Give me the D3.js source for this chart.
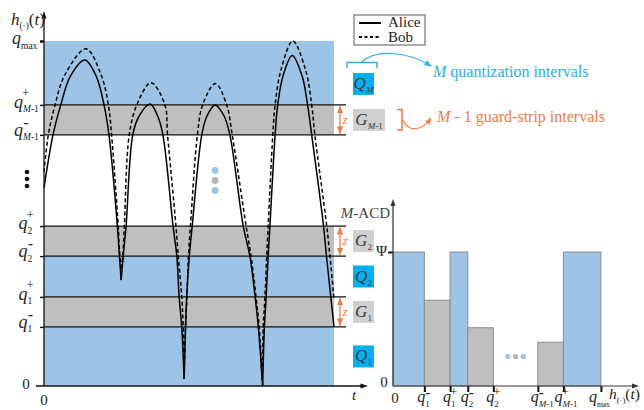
<!DOCTYPE html>
<html>
<head>
<meta charset="utf-8">
<script src="https://cdn.jsdelivr.net/npm/d3@7"></script>
<style>
  body { margin: 0; background: #fff; }
  svg { display: block; font-family: "Liberation Serif", "Times New Roman", serif; }
</style>
</head>
<body>
<div id="chart"></div>
<script>
// h-axis levels (unit = guard strip width z)
const levelSubs  = ["", "1", "1", "2", "2", "M-1", "M-1", "max"];
const levelSigns = ["", "-", "+", "-", "+", "-", "+", ""];
const levels     = [0, 1.97, 2.97, 4.33, 5.33, 8.37, 9.37, 11.5];
const bandKinds  = ["Q", "G", "Q", "G", null, "G", "Q"];
const bandNames  = ["1", "1", "2", "2", null, "M-1", "M"];

// channel gain traces
const aliceT = [0, 0.31, 0.58, 0.91, 1.41, 1.80, 2.07, 2.24, 2.53, 2.60, 2.66,
  2.73, 2.83, 3.06, 3.28, 3.66, 3.92, 4.10, 4.45, 4.58, 4.66, 4.75, 4.83,
  4.92, 5.01, 5.11, 5.44, 5.62, 5.90, 6.21, 6.41, 6.87, 7.10, 7.28, 7.39, 7.54,
  7.60, 7.66, 7.73, 7.79, 7.97, 8.06, 8.24, 8.56, 8.90, 9.09, 9.23, 9.64, 9.74, 9.89, 10.0];
const aliceH = [6.6, 8.37, 9.37, 10.33, 10.87, 10.33, 9.37, 8.37, 5.33, 4.33, 3.53,
  4.33, 5.33, 8.37, 9.0, 9.4, 9.0, 8.37, 5.33, 4.33, 2.97, 1.97, 0.23,
  2.97, 4.33, 5.33, 8.37, 9.0, 9.37, 9.0, 8.37, 5.33, 4.33, 2.97, 1.97, 0,
  1.97, 2.97, 4.33, 5.33, 8.37, 9.37, 10.33, 11.02, 10.33, 9.37, 8.37, 5.33, 4.33, 2.97, 1.97];
const bobT = [0, 0.15, 0.38, 0.72, 1.45, 1.97, 2.22, 2.33, 2.56, 2.62, 2.69,
  2.72, 2.77, 2.94, 3.20, 3.69, 4.17, 4.26, 4.55, 4.63, 4.75, 4.80, 4.84,
  4.88, 4.93, 4.98, 5.05, 5.29, 5.47, 5.91, 6.30, 6.49, 6.97, 7.14, 7.31, 7.42, 7.52,
  7.56, 7.62, 7.68, 7.73, 7.89, 7.97, 8.17, 8.58, 9.02, 9.23, 9.34, 9.75, 9.86, 10.0];
const bobH = [7.13, 8.37, 9.37, 10.37, 11.24, 10.37, 9.37, 8.37, 5.33, 4.33, 3.93,
  4.33, 5.33, 8.37, 9.37, 10.11, 9.37, 8.37, 5.33, 4.33, 2.97, 1.97, 0.47,
  1.97, 2.97, 4.33, 5.33, 8.37, 9.37, 10.08, 9.37, 8.37, 5.33, 4.33, 2.97, 1.97, 0.2,
  1.97, 2.97, 4.33, 5.33, 8.37, 9.37, 10.53, 11.5, 10.53, 9.37, 8.37, 5.33, 4.33, 2.9];

// M-ACD histogram
const acdEdges  = [0, 1.74, 3.17, 4.15, 5.57, 8.04, 9.46, 11.54];
const acdValues = [1, 0.64, 1, 0.435, null, 0.326, 1];
const acdKinds  = ["Q", "G", "Q", "G", null, "G", "Q"];
const acdSubs   = ["1", "1", "2", "2", "M-1", "M-1", "max"];
const acdSigns  = ["-", "+", "-", "+", "-", "+", ""];

const BLUE = "#9dc3e6", GRAY = "#bfbfbf", CYAN = "#00b0f0", LGRAY = "#d0d0d0";
const ORANGE = "#f07c45", SKY = "#2eaee4", INK = "#222";

const svg = d3.select("#chart").append("svg").attr("width", 644).attr("height", 410);

const defs = svg.append("defs");
function marker(id, col) {
  defs.append("marker").attr("id", id).attr("viewBox", "0 0 10 10")
    .attr("refX", 9).attr("refY", 5).attr("markerWidth", 6).attr("markerHeight", 6)
    .attr("orient", "auto-start-reverse")
    .append("path").attr("d", "M0,1L10,5L0,9z").attr("fill", col);
}
marker("arrSky", SKY);
marker("arrOr", ORANGE);

const x = d3.scaleLinear().domain([0, 10]).range([44, 334]);
const y = d3.scaleLinear().domain([0, 11.5]).range([386, 41]);

// bands
const bands = d3.range(bandKinds.length).filter(i => bandKinds[i]);
svg.append("g").selectAll("rect").data(bands).join("rect")
  .attr("x", x(0)).attr("width", x(10) - x(0))
  .attr("y", i => y(levels[i + 1])).attr("height", i => y(levels[i]) - y(levels[i + 1]))
  .attr("fill", i => bandKinds[i] === "Q" ? BLUE : GRAY);

// level lines
svg.append("g").selectAll("line").data(levels.slice(1, -1)).join("line")
  .attr("x1", x(0)).attr("x2", x(10) + 12)
  .attr("y1", d => y(d)).attr("y2", d => y(d))
  .attr("stroke", "#111").attr("stroke-width", 1.3);

// traces, one spline per arch (split at the cusps)
function arches(T, H) {
  const segs = [];
  let cur = [[T[0], H[0]]];
  for (let i = 1; i < T.length; i++) {
    cur.push([T[i], H[i]]);
    if (i < T.length - 1 && H[i] < H[i - 1] && H[i] < H[i + 1]) {
      segs.push(cur);
      cur = [[T[i], H[i]]];
    }
  }
  segs.push(cur);
  return segs;
}
const line = d3.line().x(d => x(d[0])).y(d => y(d[1])).curve(d3.curveCatmullRom.alpha(0.5));
svg.append("g").selectAll("path").data(arches(bobT, bobH)).join("path")
  .attr("d", line).attr("fill", "none").attr("stroke", "#000")
  .attr("stroke-width", 1.5).attr("stroke-dasharray", "4,2.6");
svg.append("g").selectAll("path").data(arches(aliceT, aliceH)).join("path")
  .attr("d", line).attr("fill", "none").attr("stroke", "#000").attr("stroke-width", 1.5);

// axes
const yAx = svg.append("g").attr("transform", "translate(44,0)")
  .call(d3.axisLeft(y).tickValues(levels.slice(1)).tickSize(4).tickFormat(""));
yAx.select(".domain").remove();
yAx.selectAll(".tick line").attr("stroke", "#111").attr("stroke-width", (d, i) => i === levels.length - 2 ? 2.5 : 1.4);
svg.append("line").attr("x1", 44).attr("x2", 44).attr("y1", 386).attr("y2", 16).attr("stroke", "#111").attr("stroke-width", 1.3);
svg.append("path").attr("d", "M44,11L41.5,18.5L46.5,18.5z").attr("fill", "#111");
svg.append("line").attr("x1", 36).attr("x2", 362).attr("y1", 386).attr("y2", 386).attr("stroke", "#111").attr("stroke-width", 1.3);
svg.append("path").attr("d", "M368,386L360.5,383.5L360.5,388.5z").attr("fill", "#111");

// label helpers
function addSub(t, sub, size, dy, xAbs) {
  const first = t.append("tspan").attr("dy", dy).attr("font-size", size);
  if (xAbs !== undefined) first.attr("x", xAbs);
  if (sub === "M-1") {
    first.attr("font-style", "italic").text("M");
    t.append("tspan").attr("font-size", size).text("-1");
  } else {
    first.text(sub);
  }
}
// q with a superscript sign stacked over its subscript, as one text
function qLabel(g, qx, base, sub, sign, o) {
  const t = g.append("text").attr("x", qx).attr("y", base).attr("fill", INK);
  t.append("tspan").attr("font-style", "italic").attr("font-size", o.q).text("q");
  const subX = qx + o.q * 0.5;
  if (sign) {
    const plus = sign === "+";
    t.append("tspan").attr("x", subX + (plus ? o.plusDx : o.minusDx))
      .attr("dy", plus ? o.plusDy : o.minusDy)
      .attr("font-size", plus ? 13 : 15).attr("font-weight", plus ? null : "bold")
      .text(sign);
    addSub(t, sub, o.sub, o.subDy - (plus ? o.plusDy : o.minusDy), subX);
  } else {
    addSub(t, sub, o.sub, o.subDy, subX);
  }
}

// left axis labels
const lab = svg.append("g");
levels.forEach((lv, i) => {
  if (i === 0) return;
  const sub = levelSubs[i], sign = levelSigns[i];
  const qx = sub === "max" ? 12 : sub === "M-1" ? 14 : 18.5;
  const base = y(lv) + (sign === "-" ? 1 : 3);
  qLabel(lab, qx, base, sub, sign, {
    q: 18, sub: 9.5, subDy: 4.5,
    plusDx: -1, plusDy: -10.5, minusDx: 0.5, minusDy: -9
  });
});
lab.append("text").attr("x", 26).attr("y", 389).attr("text-anchor", "middle").attr("font-size", 15).attr("fill", INK).text("0");
lab.append("text").attr("x", 44).attr("y", 405).attr("text-anchor", "middle").attr("font-size", 15).attr("fill", INK).text("0");
lab.append("text").attr("x", 354).attr("y", 400).attr("text-anchor", "middle").attr("font-size", 15).attr("font-style", "italic").attr("fill", INK).text("t");

function hLabel(g, x0, base, size) {
  const t = g.append("text").attr("x", x0).attr("y", base).attr("fill", INK).attr("font-size", size);
  t.append("tspan").attr("font-style", "italic").text("h");
  t.append("tspan").attr("font-size", size * 0.55).attr("dy", 4).text("(·)");
  t.append("tspan").attr("dy", -4).text("(");
  t.append("tspan").attr("font-style", "italic").text("t");
  t.append("tspan").text(")");
}
hLabel(lab, 11, 25, 17);

// vertical ellipsis on left
lab.selectAll("circle.vd").data([0, 1, 2]).join("circle").attr("class", "vd")
  .attr("cx", 27).attr("cy", d => 172 + d * 7).attr("r", 2.3).attr("fill", "#111");
// coloured dots in the middle of the skipped levels
const midH = (levels[4] + levels[5]) / 2;
lab.selectAll("circle.md").data([1, 0, -1]).join("circle").attr("class", "md")
  .attr("cx", x(5.9)).attr("cy", d => y(midH) + d * 10).attr("r", 3.4)
  .attr("fill", d => d === 0 ? "#b4b4b4" : BLUE);

// z arrows and interval boxes
const side = svg.append("g");
bands.forEach(i => {
  const top = y(levels[i + 1]), bot = y(levels[i]), mid = (top + bot) / 2;
  if (bandKinds[i] === "G") {
    side.append("line").attr("x1", 340).attr("x2", 340).attr("y1", top + 1.5).attr("y2", bot - 1.5)
      .attr("stroke", ORANGE).attr("stroke-width", 1.3)
      .attr("marker-start", "url(#arrOr)").attr("marker-end", "url(#arrOr)");
    side.append("text").attr("x", 342.5).attr("y", mid + 4).attr("font-size", 13)
      .attr("font-style", "italic").attr("fill", ORANGE).text("z");
  }
  const w = bandNames[i] === "M-1" ? 32 : 21;
  const cy = bandNames[i] === "M" ? mid + 11 : mid;
  side.append("rect").attr("x", 353).attr("y", cy - 11).attr("width", w).attr("height", 22)
    .attr("fill", bandKinds[i] === "Q" ? CYAN : LGRAY);
  const t = side.append("text").attr("x", 353 + w / 2).attr("y", cy + 5)
    .attr("text-anchor", "middle").attr("fill", "#3a3a3a");
  t.append("tspan").attr("font-style", "italic").attr("font-size", 17).text(bandKinds[i]);
  const sub = bandNames[i];
  if (sub === "M") {
    t.append("tspan").attr("dy", 4).attr("font-size", 9).attr("font-style", "italic").text("M");
  } else addSub(t, sub, 9, 4);
});

// legend
const leg = svg.append("g");
leg.append("rect").attr("x", 354).attr("y", 15).attr("width", 71).attr("height", 30)
  .attr("fill", "#fff").attr("stroke", "#808080").attr("stroke-width", 1.3);
leg.append("line").attr("x1", 359).attr("x2", 381).attr("y1", 23).attr("y2", 23).attr("stroke", "#000").attr("stroke-width", 2);
leg.append("line").attr("x1", 359).attr("x2", 381).attr("y1", 37).attr("y2", 37).attr("stroke", "#000").attr("stroke-width", 2).attr("stroke-dasharray", "3,2.5");
leg.append("text").attr("x", 388).attr("y", 27).attr("font-size", 15).attr("fill", INK).text("Alice");
leg.append("text").attr("x", 388).attr("y", 42).attr("font-size", 15).attr("fill", INK).text("Bob");

// callouts
side.append("path").attr("d", "M347,68V62.5H377V68").attr("fill", "none").attr("stroke", SKY).attr("stroke-width", 1.5);
side.append("path").attr("d", "M362,62C374,50 405,50 431,66").attr("fill", "none").attr("stroke", SKY)
  .attr("stroke-width", 1.2).attr("marker-end", "url(#arrSky)");
const qt = side.append("text").attr("x", 433).attr("y", 77).attr("font-size", 16).attr("fill", SKY);
qt.append("tspan").attr("font-style", "italic").text("M");
qt.append("tspan").text(" quantization intervals");
side.append("path").attr("d", "M397,109.5H402V130H397").attr("fill", "none").attr("stroke", ORANGE).attr("stroke-width", 1.5);
side.append("path").attr("d", "M403,120C409,133 422,131 431,118").attr("fill", "none").attr("stroke", ORANGE)
  .attr("stroke-width", 1.2).attr("marker-end", "url(#arrOr)");
const gt = side.append("text").attr("x", 437).attr("y", 122).attr("font-size", 16).attr("fill", ORANGE);
gt.append("tspan").attr("font-style", "italic").text("M");
gt.append("tspan").text(" - 1 guard-strip intervals");

// M-ACD chart
const xR = d3.scaleLinear().domain([0, 13.6]).range([393, 638]);
const yR = d3.scaleLinear().domain([0, 1]).range([386, 252]);
const acd = svg.append("g");
const bins = d3.range(acdValues.length).filter(i => acdKinds[i]);
acd.selectAll("rect").data(bins).join("rect")
  .attr("x", i => xR(acdEdges[i])).attr("width", i => xR(acdEdges[i + 1]) - xR(acdEdges[i]))
  .attr("y", i => yR(acdValues[i])).attr("height", i => yR(0) - yR(acdValues[i]))
  .attr("fill", i => acdKinds[i] === "Q" ? BLUE : GRAY)
  .attr("stroke", "#8c8c8c").attr("stroke-width", 1);
const gapMid = (acdEdges[4] + acdEdges[5]) / 2;
acd.selectAll("circle").data([-1, 0, 1]).join("circle")
  .attr("cx", d => xR(gapMid) + d * 7.8).attr("cy", yR(0.22)).attr("r", 2.6)
  .attr("fill", d => d === 0 ? "#b4b4b4" : BLUE);

const xRAx = acd.append("g").attr("transform", "translate(0,386)")
  .call(d3.axisBottom(xR).tickValues(acdEdges.slice(1)).tickSize(6).tickFormat(""));
xRAx.select(".domain").remove();
xRAx.selectAll(".tick line").attr("stroke", "#111").attr("stroke-width", 2);
const yRAx = acd.append("g").attr("transform", "translate(393,0)")
  .call(d3.axisLeft(yR).tickValues([1]).tickSize(5).tickFormat(""));
yRAx.select(".domain").remove();
yRAx.selectAll(".tick line").attr("stroke", "#111").attr("stroke-width", 2);
acd.append("line").attr("x1", 393).attr("x2", 393).attr("y1", 386).attr("y2", 204).attr("stroke", "#333").attr("stroke-width", 1.2);
acd.append("path").attr("d", "M393,199L390.5,206L395.5,206z").attr("fill", "#333");
acd.append("line").attr("x1", 393).attr("x2", 633).attr("y1", 386).attr("y2", 386).attr("stroke", "#333").attr("stroke-width", 1.2);
acd.append("path").attr("d", "M639,386L632,383.5L632,388.5z").attr("fill", "#333");

acdSubs.forEach((sub, i) => {
  const T = xR(acdEdges[i + 1]);
  const qx = sub === "max" ? T - 12 : sub === "M-1" && acdSigns[i] === "+" ? T - 9 : T - 7;
  qLabel(acd, qx, 402, sub, acdSigns[i], {
    q: 16, sub: sub === "max" ? 7.5 : 9, subDy: 5,
    plusDx: -1, plusDy: -6.5, minusDx: 0, minusDy: -5
  });
});
acd.append("text").attr("x", 395).attr("y", 403).attr("text-anchor", "middle").attr("font-size", 15).attr("fill", INK).text("0");
acd.append("text").attr("x", 384).attr("y", 387).attr("text-anchor", "middle").attr("font-size", 15).attr("fill", INK).text("0");
acd.append("text").attr("x", 387).attr("y", 256).attr("text-anchor", "end").attr("font-size", 15).attr("fill", INK).text("Ψ");
const mt = acd.append("text").attr("x", 390).attr("y", 218).attr("text-anchor", "end").attr("font-size", 15).attr("fill", "#444");
mt.append("tspan").attr("font-style", "italic").text("M");
mt.append("tspan").text("-ACD");
hLabel(acd, 609, 399, 15.5);
</script>
</body>
</html>
